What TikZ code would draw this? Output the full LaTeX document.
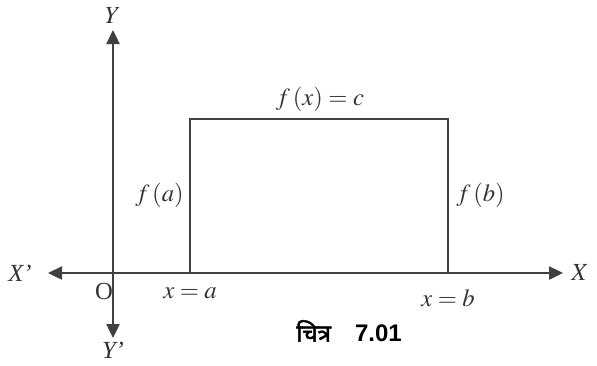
\documentclass[tikz,border=0pt]{standalone}
\usepackage{mathptmx}
\usepackage{fontspec}
\setmainfont{Liberation Serif}
\newfontfamily\capfont{Liberation Sans}
\newfontfamily\devfont[Script=Devanagari, FakeBold=2]{Noto Sans}
\usepackage{tikz}
\usetikzlibrary{arrows.meta, positioning}

\begin{document}
\begin{tikzpicture}[
    x=0.5pt, y=-0.5pt,
    axis/.style={draw=black!75, line width=1.2pt, -{Triangle[length=7pt, width=6.5pt]}},
    edge/.style={draw=black!75, line width=1.2pt},
    lbl/.style={text=black!80, inner sep=0pt, font=\fontsize{12.3}{14}\selectfont},
    caption/.style={text=black, inner sep=0pt, font=\fontsize{12}{14}\selectfont\bfseries}
]
\useasboundingbox (0,0) rectangle (597,365);

\coordinate (origin) at (113,273);
\coordinate (x_pos) at (563,273);
\coordinate (x_neg) at (48,273);
\coordinate (y_pos) at (113,30);
\coordinate (y_neg) at (113,338);
\coordinate (a_bot) at (190,273);
\coordinate (a_top) at (190,119);
\coordinate (b_top) at (448,119);
\coordinate (b_bot) at (448,273);

\draw[axis] (origin) -- (x_pos);
\draw[axis] (origin) -- (x_neg);
\draw[axis] (origin) -- (y_pos);
\draw[axis] (origin) -- (y_neg);
\draw[edge] (a_bot) -- (a_top) -- (b_top) -- (b_bot);

\node[lbl, right=4pt of x_pos] (lbl_x) {$X$};
\node[lbl, left=8pt of x_neg] (lbl_xn) {\textit{X’}};
\node[lbl, above=3pt of y_pos] (lbl_y) {$Y$};
\node[lbl, below=2pt of y_neg] (lbl_yn) {\textit{Y’}};
\node[lbl] (lbl_o) at (104,291) {O};
\node[lbl] (lbl_a) at (190,293) {$x = a$};
\node[lbl] (lbl_b) at (448,298) {$x = b$};
\node[lbl] (lbl_c) at (320,99) {$f\,(x) = c$};
\node[lbl, left=3pt of a_top, yshift=-38pt] (lbl_fa) {$f\,(a)$};
\node[lbl, right=4pt of b_top, yshift=-38pt] (lbl_fb) {$f\,(b)$};
\node[caption] (fig_cap) at (349,331) {{\devfont चित्र}\quad{\capfont 7.01}};

\end{tikzpicture}
\end{document}
